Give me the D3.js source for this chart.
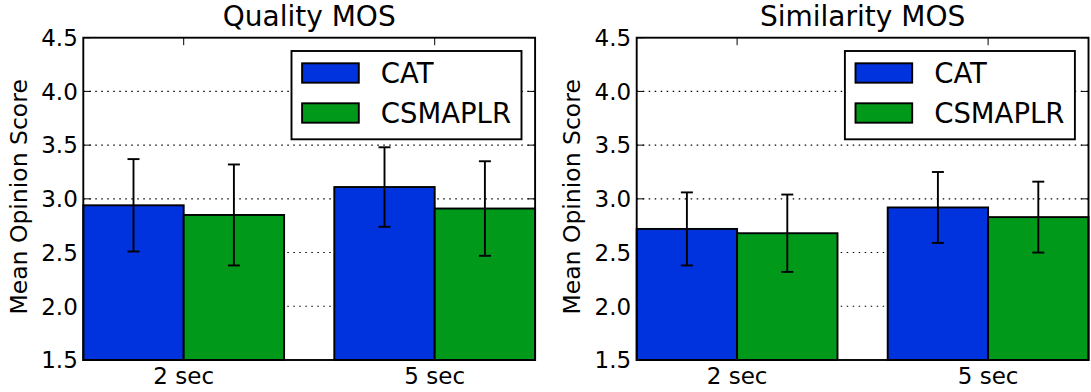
<!DOCTYPE html>
<html>
<head>
<meta charset="utf-8">
<script src="https://cdn.jsdelivr.net/npm/d3@7"></script>
<style>
  body { margin: 0; background: #fff; }
  text { font-family: 'DejaVu Sans', sans-serif; fill: #000; }
</style>
</head>
<body>
<script>
const groups = ['2 sec', '5 sec'];
const seriesNames = ['CAT', 'CSMAPLR'];
const seriesColors = ['#0033dd', '#00991a'];
const yTicks = [1.5, 2.0, 2.5, 3.0, 3.5, 4.0, 4.5];
const gridTicks = [2.0, 2.5, 3.0, 3.5, 4.0];

const qualityCAT = [2.94, 3.11];
const qualityCSMAPLR = [2.85, 2.91];
const qualityErrCAT = [0.43, 0.37];
const qualityErrCSMAPLR = [0.47, 0.44];

const similarityCAT = [2.72, 2.92];
const similarityCSMAPLR = [2.68, 2.83];
const similarityErrCAT = [0.34, 0.33];
const similarityErrCSMAPLR = [0.36, 0.33];

const panels = [
  { title: 'Quality MOS', left: 83.3, values: [qualityCAT, qualityCSMAPLR], errs: [qualityErrCAT, qualityErrCSMAPLR] },
  { title: 'Similarity MOS', left: 636.7, values: [similarityCAT, similarityCSMAPLR], errs: [similarityErrCAT, similarityErrCSMAPLR] }
];

const width = 1091;
const height = 392;
const plotW = 451.8;
const plotTop = 37.7;
const plotBottom = 360;
const barW = 0.4;

const svg = d3.select('body')
  .append('svg')
  .attr('width', width)
  .attr('height', height);

const y = d3.scaleLinear().domain([1.5, 4.5]).range([plotBottom, plotTop]);

panels.forEach(p => {
  const right = p.left + plotW;
  const x = d3.scaleLinear().domain([-barW, groups.length - 1 + barW]).range([p.left, right]);
  const g = svg.append('g');

  // dotted grid, behind everything
  g.selectAll('.grid')
    .data(gridTicks)
    .enter().append('line')
    .attr('x1', p.left).attr('x2', right)
    .attr('y1', d => y(d)).attr('y2', d => y(d))
    .attr('stroke', '#000')
    .attr('stroke-width', 1.1)
    .attr('stroke-dasharray', '1.5,4.5');

  // ticks (inward)
  yTicks.forEach(t => {
    g.append('line').attr('x1', p.left).attr('x2', p.left + 7.5)
      .attr('y1', y(t)).attr('y2', y(t)).attr('stroke', '#000').attr('stroke-width', 1);
    g.append('line').attr('x1', right).attr('x2', right - 7.5)
      .attr('y1', y(t)).attr('y2', y(t)).attr('stroke', '#000').attr('stroke-width', 1);
  });
  groups.forEach((name, i) => {
    g.append('line').attr('x1', x(i)).attr('x2', x(i))
      .attr('y1', plotTop).attr('y2', plotTop + 7.5).attr('stroke', '#000').attr('stroke-width', 1);
  });

  // bars
  seriesNames.forEach((s, si) => {
    g.selectAll('.bar' + si)
      .data(p.values[si])
      .enter().append('rect')
      .attr('x', (d, i) => x(i + (si - 1) * barW))
      .attr('width', x(barW) - x(0))
      .attr('y', d => y(d))
      .attr('height', d => y(1.5) - y(d))
      .attr('fill', seriesColors[si])
      .attr('stroke', '#000')
      .attr('stroke-width', 1.9);
  });

  // error bars
  seriesNames.forEach((s, si) => {
    p.values[si].forEach((v, i) => {
      const cx = x(i + (si - 0.5) * barW);
      const e = p.errs[si][i];
      g.append('line').attr('x1', cx).attr('x2', cx)
        .attr('y1', y(v + e)).attr('y2', y(v - e))
        .attr('stroke', '#000').attr('stroke-width', 1.9);
      [v + e, v - e].forEach(c => {
        g.append('line').attr('x1', cx - 6).attr('x2', cx + 6)
          .attr('y1', y(c)).attr('y2', y(c))
          .attr('stroke', '#000').attr('stroke-width', 1.9);
      });
    });
  });

  // frame
  g.append('rect')
    .attr('x', p.left).attr('y', plotTop)
    .attr('width', plotW).attr('height', plotBottom - plotTop)
    .attr('fill', 'none')
    .attr('stroke', '#000')
    .attr('stroke-width', 1.9);

  // tick labels
  g.selectAll('.ytl')
    .data(yTicks)
    .enter().append('text')
    .attr('x', p.left - 5.5)
    .attr('y', d => y(d))
    .attr('dy', '0.36em')
    .attr('text-anchor', 'end')
    .style('font-size', '23px')
    .text(d => d.toFixed(1));
  g.selectAll('.xtl')
    .data(groups)
    .enter().append('text')
    .attr('x', (d, i) => x(i))
    .attr('y', 384)
    .attr('text-anchor', 'middle')
    .style('font-size', '23px')
    .text(d => d);

  // axis label + title
  g.append('text')
    .attr('transform', `translate(${p.left - 56.7},${(plotTop + plotBottom) / 2 - 2}) rotate(-90)`)
    .attr('text-anchor', 'middle')
    .style('font-size', '23.5px')
    .text('Mean Opinion Score');
  g.append('text')
    .attr('x', (p.left + right) / 2)
    .attr('y', 26)
    .attr('text-anchor', 'middle')
    .style('font-size', '28px')
    .text(p.title);

  // legend
  const lx = right - 13.6 - 230;
  const legend = g.append('g').attr('transform', `translate(${lx},51)`);
  legend.append('rect')
    .attr('width', 230).attr('height', 88.3)
    .attr('fill', '#fff')
    .attr('stroke', '#000')
    .attr('stroke-width', 1.9);
  seriesNames.forEach((s, si) => {
    legend.append('rect')
      .attr('x', 10.6).attr('y', 12.3 + si * 40)
      .attr('width', 56.7).attr('height', 19.4)
      .attr('fill', seriesColors[si])
      .attr('stroke', '#000')
      .attr('stroke-width', 1.9);
    legend.append('text')
      .attr('x', 89.3).attr('y', 31.7 + si * 40)
      .style('font-size', '27.5px')
      .text(s);
  });
});
</script>
</body>
</html>
